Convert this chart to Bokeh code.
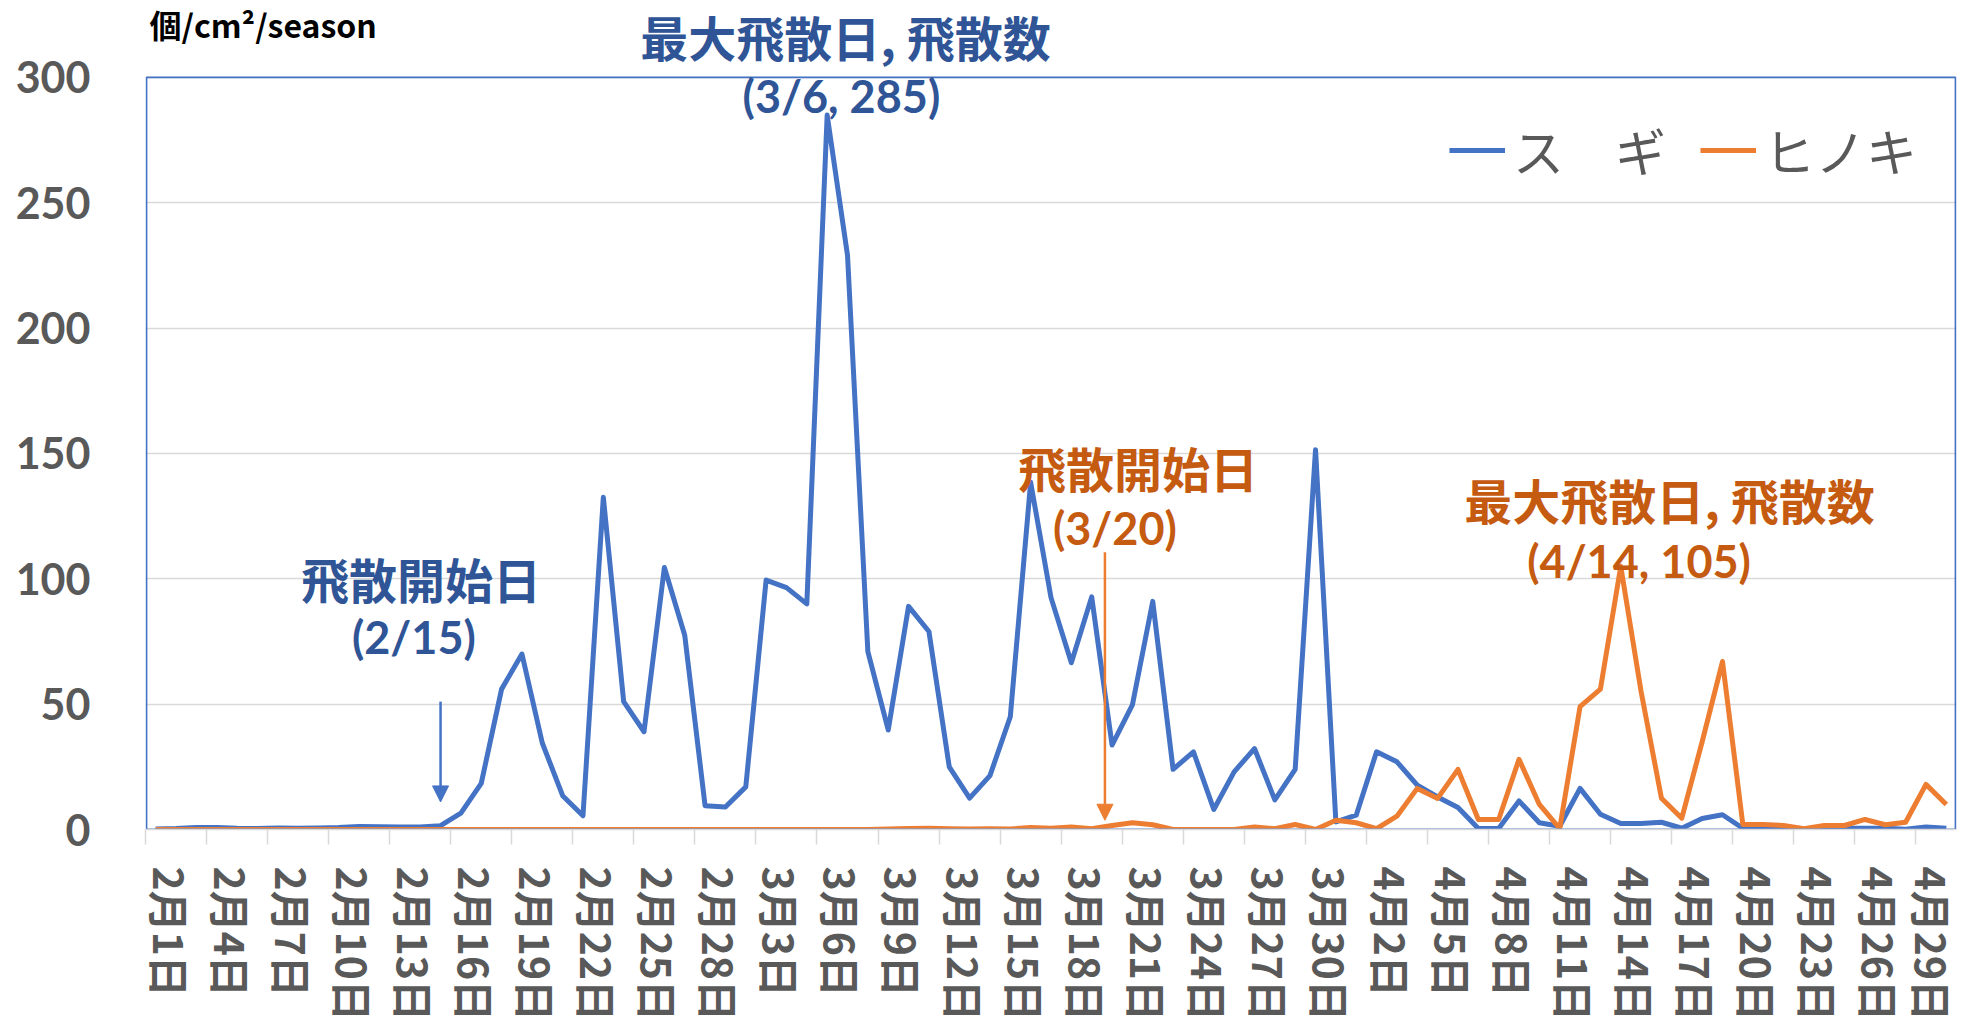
from bokeh.plotting import figure
from bokeh.models import (Range1d, FixedTicker, Label, Arrow, NormalHead, Legend, LegendItem,
                          BoxAnnotation)
from bokeh.embed import file_html
from bokeh.resources import INLINE

# ---------------- data ----------------
dates = [
    "2月1日", "2月2日", "2月3日", "2月4日", "2月5日", "2月6日", "2月7日", "2月8日", "2月9日", "2月10日",
    "2月11日", "2月12日", "2月13日", "2月14日", "2月15日", "2月16日", "2月17日", "2月18日", "2月19日", "2月20日",
    "2月21日", "2月22日", "2月23日", "2月24日", "2月25日", "2月26日", "2月27日", "2月28日",
    "3月1日", "3月2日", "3月3日", "3月4日", "3月5日", "3月6日", "3月7日", "3月8日", "3月9日", "3月10日",
    "3月11日", "3月12日", "3月13日", "3月14日", "3月15日", "3月16日", "3月17日", "3月18日", "3月19日", "3月20日",
    "3月21日", "3月22日", "3月23日", "3月24日", "3月25日", "3月26日", "3月27日", "3月28日", "3月29日", "3月30日",
    "3月31日",
    "4月1日", "4月2日", "4月3日", "4月4日", "4月5日", "4月6日", "4月7日", "4月8日", "4月9日", "4月10日",
    "4月11日", "4月12日", "4月13日", "4月14日", "4月15日", "4月16日", "4月17日", "4月18日", "4月19日", "4月20日",
    "4月21日", "4月22日", "4月23日", "4月24日", "4月25日", "4月26日", "4月27日", "4月28日", "4月29日", "4月30日",
]

sugi = [
    # Feb
    0.2, 0.4, 0.8, 0.8, 0.5, 0.4, 0.6, 0.5, 0.6, 0.8,
    1.2, 1.1, 1.0, 1.0, 1.5, 6.5, 18.4, 56, 70, 34.5,
    13.5, 5.5, 132.5, 51, 39, 104.5, 77.5, 9.5,
    # Mar
    9, 17, 99.5, 96.5, 90, 285, 229, 71, 39.7, 89,
    79, 25, 12.5, 21.5, 45, 138.5, 92.5, 66.5, 92.8, 33.7,
    49.7, 91, 24, 31, 8, 23, 32.3, 11.8, 24, 151.5,
    3,
    # Apr
    5.7, 31, 27, 17.7, 13, 8.8, 0.4, 0.4, 11.4, 2.7,
    1.3, 16.4, 6.1, 2.4, 2.4, 2.9, 0.5, 4.4, 5.9, 0.5,
    0.3, 0.1, 0.0, 0.1, 0.5, 0.5, 0.5, 0.1, 1.0, 0.5,
]

hinoki = [
    # Feb
    0, 0, 0, 0, 0, 0, 0, 0, 0, 0,
    0, 0, 0, 0, 0, 0, 0, 0, 0, 0,
    0, 0, 0, 0, 0, 0, 0, 0,
    # Mar
    0, 0, 0, 0, 0, 0, 0, 0, 0.2, 0.4,
    0.5, 0.3, 0.2, 0.3, 0.2, 0.8, 0.5, 1.0, 0.3, 1.6,
    2.7, 1.9, 0, 0, 0, 0, 1.0, 0.3, 2.0, 0,
    3.7,
    # Apr
    2.7, 0.3, 5.3, 16.4, 12.4, 24, 4, 4, 28, 10,
    0.4, 49, 56, 105, 55, 12.5, 4.5, 35, 67, 2,
    2, 1.6, 0.3, 1.6, 1.6, 4, 1.9, 2.9, 18, 10,
]

series_names = ["ス　ギ", "ヒノキ"]
y_ticks = [0, 50, 100, 150, 200, 250, 300]
label_step = 3
unit_text = "個/cm²/season"

# ---------------- layout / styling ----------------
W, H = 1962, 1024
FRAME_L, FRAME_R = 145, 6
PLOT_TOP = 77          # px from top where the 300 line (plot-area top) sits
AREA_H = 752.3         # px height of the 0..300 plot area
BLUE = "#4472C4"
ORANGE = "#ED7D31"
BLUE_TXT = "#2F5597"
ORANGE_TXT = "#C55A11"
GRAY_TXT = "#595959"
GRID = "#D9D9D9"
JP = "Noto Sans CJK JP"

n = len(dates)
xs = list(range(n))
px_x = (W - FRAME_L - FRAME_R) / n
px_y = AREA_H / (y_ticks[-1] - y_ticks[0])
y_top = y_ticks[-1] + PLOT_TOP / px_y      # frame reaches the top edge so top texts are not clipped

p = figure(width=W, height=H, output_backend="svg", toolbar_location=None,
           x_range=Range1d(-0.5, n - 0.5), y_range=Range1d(y_ticks[0], y_top),
           min_border_left=FRAME_L, min_border_right=FRAME_R, min_border_top=0,
           min_border_bottom=0)
p.background_fill_color = "white"
p.border_fill_color = "white"
p.outline_line_color = None

p.xgrid.grid_line_color = None
p.ygrid.grid_line_color = GRID
p.ygrid.grid_line_width = 1.5

# plot-area border (0..300), kept just inside the frame so its full width shows
p.add_layout(BoxAnnotation(left=-0.5 + 1 / px_x, right=n - 0.5 - 1 / px_x,
                           bottom=y_ticks[0], top=y_ticks[-1],
                           fill_alpha=0, line_color=BLUE, line_alpha=1.0, line_width=1.8,
                           level="glyph"))

r1 = p.line(xs, sugi, line_color=BLUE, line_width=5, line_join="round")
r2 = p.line(xs, hinoki, line_color=ORANGE, line_width=5, line_join="round")

lab_idx = list(range(0, n, label_step))
lab_pos = [i + 0.75 for i in lab_idx]
p.xaxis.ticker = FixedTicker(ticks=lab_pos, minor_ticks=[i - 0.5 for i in lab_idx])
p.xaxis.major_label_overrides = {pos: dates[i] for pos, i in zip(lab_pos, lab_idx)}
p.xaxis.major_label_orientation = "vertical"
p.xaxis.major_label_text_font = JP
p.xaxis.major_label_text_font_style = "bold"
p.xaxis.major_label_text_font_size = "41px"
p.xaxis.major_label_text_color = GRAY_TXT
p.xaxis.major_label_standoff = 22
p.xaxis.major_tick_line_color = None
p.xaxis.major_tick_out = 0
p.xaxis.major_tick_in = 0
p.xaxis.minor_tick_line_color = GRID
p.xaxis.minor_tick_line_width = 1.5
p.xaxis.minor_tick_out = 15
p.xaxis.minor_tick_in = 0
p.xaxis.axis_line_color = GRID
p.xaxis.axis_line_width = 1.5

p.yaxis.ticker = FixedTicker(ticks=y_ticks)
p.yaxis.axis_line_color = None
p.yaxis.major_tick_line_color = None
p.yaxis.minor_tick_line_color = None
p.yaxis.major_label_text_font = "Lato"
p.yaxis.major_label_text_font_style = "bold"
p.yaxis.major_label_text_font_size = "43px"
p.yaxis.major_label_text_color = GRAY_TXT
p.yaxis.major_label_standoff = 49

legend = Legend(items=[LegendItem(label=series_names[0], renderers=[r1]),
                       LegendItem(label=series_names[1], renderers=[r2])],
                location="top_right", orientation="horizontal",
                label_text_font=JP, label_text_font_size="51px", label_text_color=GRAY_TXT,
                glyph_width=56, glyph_height=222, label_standoff=8, spacing=34,
                padding=39, margin=0, border_line_alpha=0, background_fill_alpha=0)
p.add_layout(legend)

i_s_start = dates.index("2月15日")
i_s_max = sugi.index(max(sugi))
i_h_start = dates.index("3月20日")
i_h_max = hinoki.index(max(hinoki))


def lab(x, y, text, color, font=JP, size="48px"):
    p.add_layout(Label(x=x, y=y, text=text, text_font=font, text_font_style="bold",
                       text_font_size=size, text_color=color,
                       text_align="center", text_baseline="middle"))


lab(i_s_start - 0.96, 100.3, "飛散開始日", BLUE_TXT)
lab(i_s_start - 1.31, 76.7, "(2/15)", BLUE_TXT, font="Lato", size="45px")
p.add_layout(Arrow(end=NormalHead(size=16, fill_color=BLUE, line_color=BLUE),
                   x_start=i_s_start, y_start=51, x_end=i_s_start, y_end=11,
                   line_color=BLUE, line_width=2.5))

lab(i_s_max + 0.9, 316.5, "最大飛散日, 飛散数", BLUE_TXT)
lab(i_s_max + 0.7, 292.5, "(3/6, 285)", BLUE_TXT, font="Lato", size="45px")

lab(i_h_start + 1.27, 144.5, "飛散開始日", ORANGE_TXT)
lab(i_h_start + 0.14, 120.2, "(3/20)", ORANGE_TXT, font="Lato", size="45px")
p.add_layout(Arrow(end=NormalHead(size=16, fill_color=ORANGE, line_color=ORANGE),
                   x_start=i_h_start - 0.35, y_start=110.6, x_end=i_h_start - 0.35, y_end=3.7,
                   line_color=ORANGE, line_width=2.5))

lab(i_h_max + 2.4, 131.8, "最大飛散日, 飛散数", ORANGE_TXT)
lab(i_h_max + 0.9, 107.0, "(4/14, 105)", ORANGE_TXT, font="Lato", size="45px")

# unit of the y values, top-left
p.add_layout(Label(x=-0.5 + 4 / px_x, y=y_top - 24 / px_y,
                   text=unit_text, text_font=JP, text_font_style="bold",
                   text_font_size="32px", text_color="black",
                   text_align="left", text_baseline="middle"))

open("out.html", "w").write(file_html(p, INLINE))
